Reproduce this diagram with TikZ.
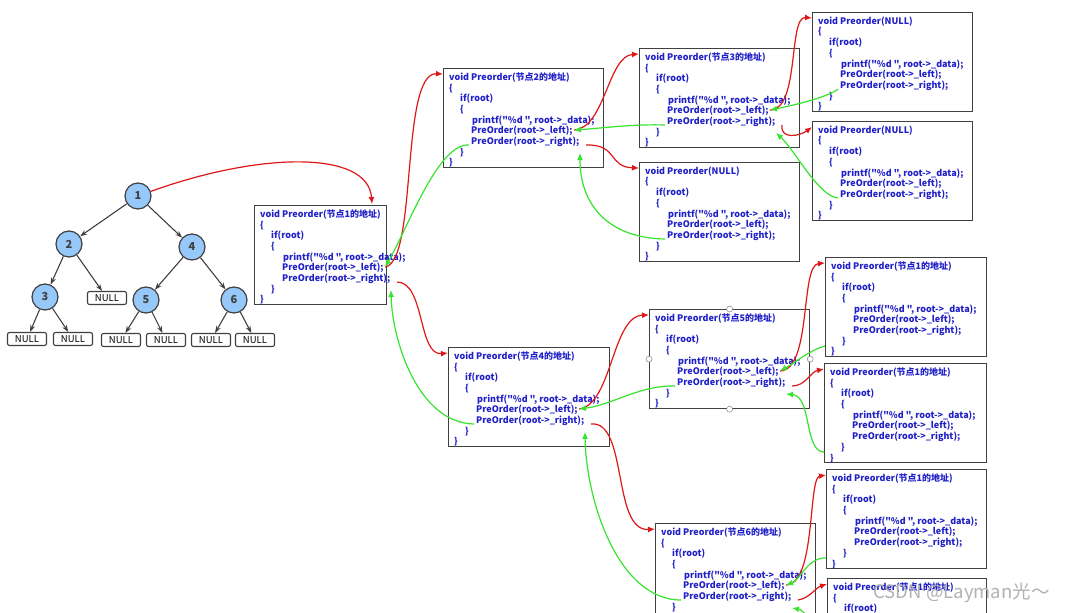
\documentclass[tikz,border=0pt]{standalone}
\usepackage{fontspec}
\setmainfont{Noto Sans CJK SC}[Ligatures=TeXOff]
\usetikzlibrary{arrows.meta}
\definecolor{codeblue}{RGB}{32,32,200}
\definecolor{boxgray}{RGB}{64,64,64}
\definecolor{nodeblue}{RGB}{150,200,250}
\definecolor{callred}{RGB}{222,24,24}
\definecolor{backgreen}{RGB}{55,228,45}
\begin{document}
\begin{tikzpicture}[x=1pt,y=-1pt,
  codebox/.style={draw=boxgray,line width=1.2pt,fill=white,anchor=north west,minimum height=99pt,inner sep=0pt},
  codetext/.style={anchor=north west,inner sep=0pt,align=left,text=codeblue,font=\bfseries\fontsize{9}{10.7}\selectfont},
  tnode/.style={circle,draw=boxgray,line width=1.2pt,fill=nodeblue,minimum size=26pt,inner sep=0pt,font=\bfseries\fontsize{11}{11}\selectfont,text=boxgray},
  nullbox/.style={draw=boxgray,line width=1.1pt,rounded corners=2pt,fill=white,minimum width=39pt,minimum height=13pt,inner sep=0pt,font=\fontsize{9.5}{9.5}\selectfont},
  edge/.style={draw=boxgray,line width=1.1pt,-{Stealth[length=7pt,width=5pt]}},
  call/.style={draw=callred,line width=1.2pt,-{Latex[length=7pt,width=6pt]}},
  back/.style={draw=backgreen,line width=1.2pt,-{Latex[length=7pt,width=6pt]}},
  handle/.style={draw=gray,fill=white,line width=0.5pt}]

    \useasboundingbox (0,0) rectangle (1066,613);
    \clip (0,0) rectangle (1066,613);
    \fill[white] (0,0) rectangle (1066,613);

    \node[tnode] (1) at (138,196) {1};
    \node[tnode] (2) at (69,244) {2};
    \node[tnode] (4) at (192,247) {4};
    \node[tnode] (3) at (45,297) {3};
    \node[nullbox] (2R) at (107,298) {NULL};
    \node[tnode] (5) at (146,300) {5};
    \node[tnode] (6) at (234,300) {6};
    \node[nullbox] (3L) at (27,339) {NULL};
    \node[nullbox] (3R) at (73,339) {NULL};
    \node[nullbox] (5L) at (121,340) {NULL};
    \node[nullbox] (5R) at (166,340) {NULL};
    \node[nullbox] (6L) at (211,340) {NULL};
    \node[nullbox] (6R) at (255,340) {NULL};

    \draw[edge] (1) -- (2);
    \draw[edge] (1) -- (4);
    \draw[edge] (2) -- (3);
    \draw[edge] (2) -- (2R);
    \draw[edge] (4) -- (5);
    \draw[edge] (4) -- (6);
    \draw[edge] (3) -- (3L);
    \draw[edge] (3) -- (3R);
    \draw[edge] (5) -- (5L);
    \draw[edge] (5) -- (5R);
    \draw[edge] (6) -- (6L);
    \draw[edge] (6) -- (6R);

    \foreach \n/\x/\y/\w/\t in {A/254/205/132/节点1的地址, B/443/68/160/节点2的地址,
        C/639/48/160/节点3的地址, D/639/162/160/NULL, E/812/12/160/NULL, F/812/121/160/NULL,
        G/448/347/161/节点4的地址, H/649/309/160/节点5的地址, I/825/257/161/节点1的地址,
        J/824/363/162/节点1的地址, K/655/523/160/节点6的地址, L/826/469/160/节点1的地址,
        M/827/578/159/节点1的地址} {
      \node[codebox,minimum width=\w pt] (\n) at (\x,\y) {};
      \node[codetext] (\n-txt) at (\x+6,\y+4.5) {void Preorder(\t)\\
        \{\\
        \hspace*{11pt}if(root)\\
        \hspace*{11pt}\{\\
        \hspace*{23pt}printf("\%d ", root->\_data);\\
        \hspace*{22pt}PreOrder(root->\_left);\\
        \hspace*{22pt}PreOrder(root->\_right);\\
        \hspace*{11pt}\}\\
        \}};
      \coordinate (\n-in) at (\x,\y+6);
      \coordinate (\n-l) at (\x+131,\y+62);
      \coordinate (\n-r) at (\x+143,\y+77);
      \coordinate (\n-ra) at (\x+137,\y+85);
      \coordinate (\n-rs) at (\x+26,\y+77);
      \coordinate (\n-b) at (\x,\y+89);
    }
    \coordinate (A-top) at (372,204);

    \draw[handle] (H.north) circle (3);
    \draw[handle] (H.south) circle (3);
    \draw[handle] (H.west) circle (3);
    \draw[handle] (H.east) circle (3);

    \draw[call] (1) .. controls (260,152) and (368,150) .. (A-top);
    \draw[call] (A-l) .. controls (418,262) and (400,72) .. (B-in);
    \draw[call] (A-r) .. controls (425,282) and (418,356) .. (G-in);
    \draw[call] (B-l) .. controls (605,128) and (608,56) .. (C-in);
    \draw[call] (B-r) .. controls (618,144) and (608,167) .. (D-in);
    \draw[call] (C-l) .. controls (800,110) and (788,16) .. (E-in);
    \draw[call] (C-r) .. controls (780,140) and (800,136) .. (F-in);
    \draw[call] (G-l) .. controls (612,405) and (612,316) .. (H-in);
    \draw[call] (G-r) .. controls (628,420) and (612,532) .. (K-in);
    \draw[call] (H-l) .. controls (812,370) and (800,265) .. (I-in);
    \draw[call] (H-r) .. controls (806,386) and (810,372) .. (J-in);
    \draw[call] (K-l) .. controls (816,585) and (808,478) .. (L-in);
    \draw[call] (K-r) .. controls (810,598) and (815,588) .. (M-in);

    \draw[back] (B-rs) .. controls (438,143) and (408,228) .. (A-l);
    \draw[back] (D-rs) .. controls (608,238) and (580,205) .. (B-ra);
    \draw[back] (C-rs) .. controls (632,124) and (605,128) .. (B-l);
    \draw[back] (E-rs) .. controls (830,96) and (800,104) .. (C-l);
    \draw[back] (F-rs) .. controls (818,196) and (795,150) .. (C-ra);
    \draw[back] (G-rs) .. controls (418,423) and (392,340) .. (A-ra);
    \draw[back] (H-rs) .. controls (640,385) and (612,405) .. (G-l);
    \draw[back] (K-rs) .. controls (618,600) and (586,500) .. (G-ra);
    \draw[back] (I-b) .. controls (810,350) and (796,362) .. (H-l);
    \draw[back] (J-b) .. controls (804,452) and (812,396) .. (H-ra);
    \draw[back] (L-b) .. controls (808,557) and (800,580) .. (K-l);
    \draw[back] (M-b) .. controls (812,660) and (814,612) .. (K-ra);

    \node[anchor=west,text=gray!60,font=\fontsize{18.5}{18.5}\selectfont] (wm) at (870,593) {CSDN @Layman光～};
\end{tikzpicture}
\end{document}
